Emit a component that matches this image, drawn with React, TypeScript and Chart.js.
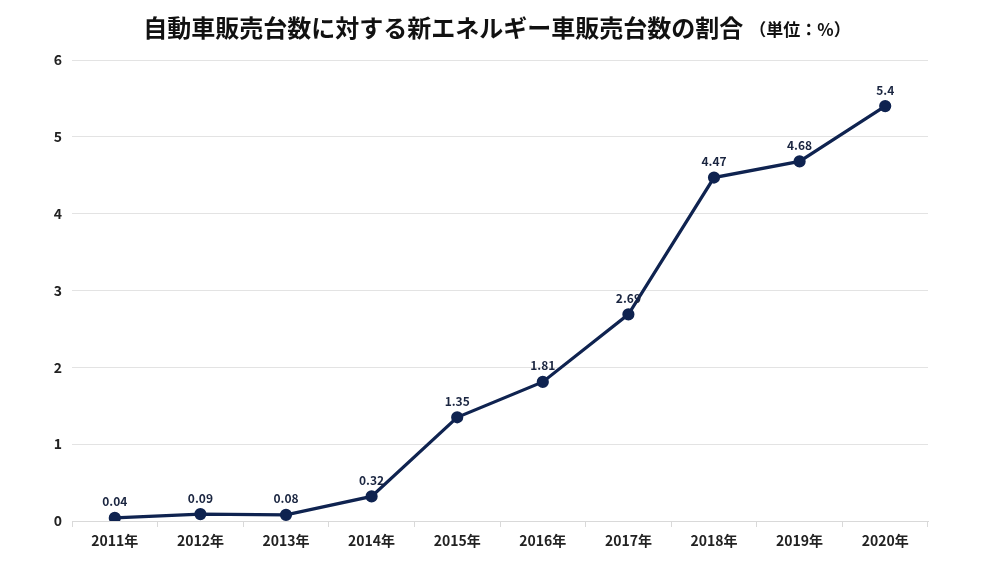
import React, { useEffect, useRef } from "react";
import { Chart, registerables } from "chart.js";

Chart.register(...registerables);

const categories = ["2011年", "2012年", "2013年", "2014年", "2015年", "2016年", "2017年", "2018年", "2019年", "2020年"];
const shareValues = [0.04, 0.09, 0.08, 0.32, 1.35, 1.81, 2.69, 4.47, 4.68, 5.4];
const titleMain = "自動車販売台数に対する新エネルギー車販売台数の割合";
const titleUnit = "（単位：%）";

const FONT = "'Noto Sans CJK JP', 'Noto Sans', sans-serif";
const NAVY = "#0f2350";

const titlePlugin = {
  id: "mixedTitle",
  afterDraw(chart: any) {
    const ctx = chart.ctx;
    ctx.save();
    ctx.textBaseline = "alphabetic";
    ctx.fillStyle = "#111111";
    const mainFont = `bold 24px ${FONT}`;
    const unitFont = `bold 17px ${FONT}`;
    ctx.font = mainFont;
    const w1 = ctx.measureText(titleMain).width;
    ctx.font = unitFont;
    const w2 = ctx.measureText(titleUnit).width;
    const gap = 6;
    const total = w1 + w2 + gap;
    const x0 = 497 - total / 2;
    const y = 37;
    ctx.font = mainFont;
    ctx.textAlign = "left";
    ctx.fillText(titleMain, x0, y);
    ctx.font = unitFont;
    ctx.fillText(titleUnit, x0 + w1 + gap, y - 1);
    ctx.restore();
  },
};

const labelPlugin = {
  id: "pointLabels",
  afterDatasetsDraw(chart: any) {
    const ctx = chart.ctx;
    const meta = chart.getDatasetMeta(0);
    const data = chart.data.datasets[0].data;
    ctx.save();
    ctx.font = `bold 12px ${FONT}`;
    ctx.fillStyle = "#1a2540";
    ctx.textAlign = "center";
    ctx.textBaseline = "bottom";
    meta.data.forEach((pt: any, i: number) => {
      ctx.fillText(String(data[i]), pt.x, pt.y - 10);
    });
    ctx.restore();
  },
};

export default function App() {
  const ref = useRef<HTMLCanvasElement>(null);
  useEffect(() => {
    if (!ref.current) return;
    const chart = new Chart(ref.current, {
      type: "line",
      data: {
        labels: categories,
        datasets: [
          {
            data: shareValues,
            borderColor: NAVY,
            backgroundColor: NAVY,
            borderWidth: 3.2,
            pointRadius: 4.5,
            pointBackgroundColor: NAVY,
            pointBorderColor: NAVY,
            tension: 0,
          },
        ],
      },
      options: {
        responsive: false,
        animation: false,
        layout: { padding: { left: 0, right: 72, top: 60, bottom: 0 } },
        plugins: { legend: { display: false }, tooltip: { enabled: false }, title: { display: false } },
        scales: {
          x: {
            offset: true,
            grid: { display: true, drawOnChartArea: false, drawTicks: true, tickLength: 6, color: "#d9d9d9", offset: true },
            border: { display: true, color: "#d9d9d9", width: 1 },
            ticks: { color: "#222222", font: { family: FONT, size: 14, weight: "bold" }, padding: 5, maxRotation: 0 },
            afterFit(scale: any) { scale.height = 41; },
          },
          y: {
            min: 0,
            max: 6,
            ticks: { stepSize: 1, color: "#222222", font: { family: FONT, size: 14, weight: "bold" }, padding: 10 },
            grid: { color: "#e3e3e3", drawTicks: false },
            border: { display: false },
            afterFit(scale: any) { scale.width = 72; },
          },
        },
      },
      plugins: [titlePlugin, labelPlugin],
    });
    return () => chart.destroy();
  }, []);
  return (
    <div style={{ position: "absolute", left: 0, top: 0, width: 1000, height: 562, background: "#ffffff" }}>
      <canvas ref={ref} width={1000} height={562} />
    </div>
  );
}
